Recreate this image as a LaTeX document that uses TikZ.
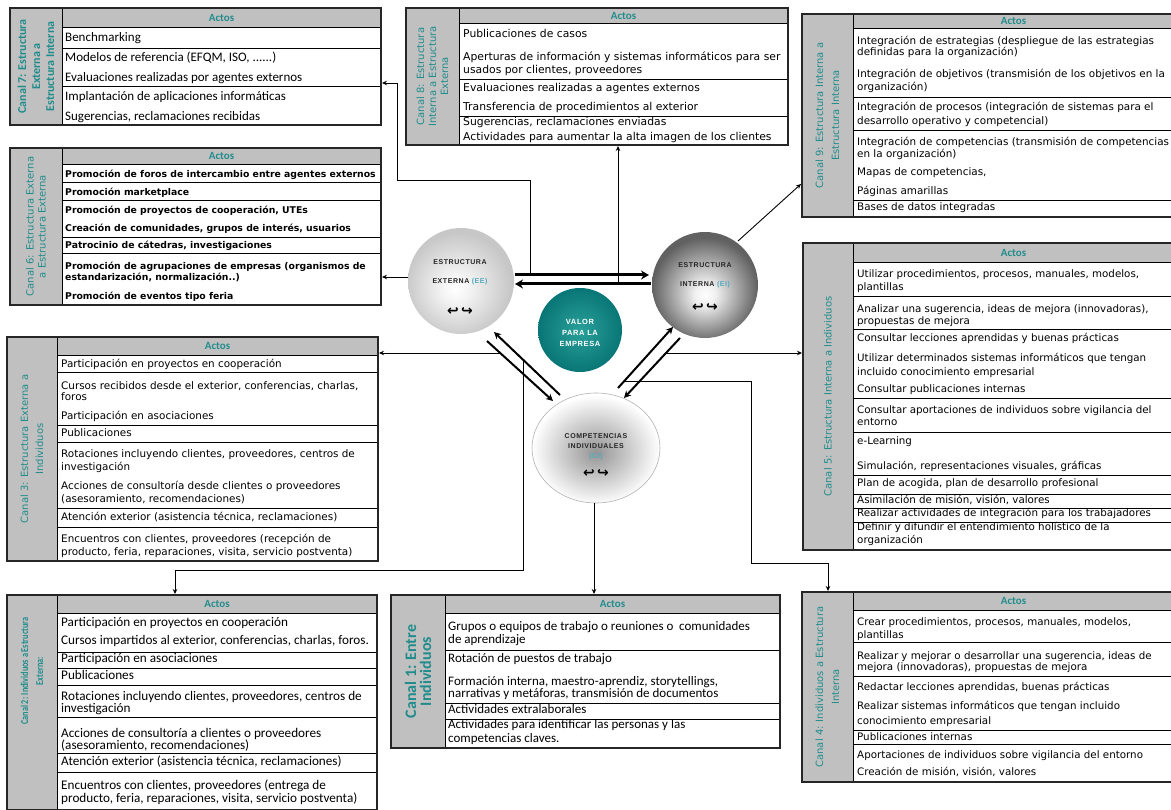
\documentclass[tikz,border=0pt]{standalone}
\usepackage{fontspec}
\newfontfamily\fdv{DejaVu Sans}
\newfontfamily\fcal{Carlito}
\newfontfamily\fcalnarrow[FakeStretch=0.78]{Carlito}
\newfontfamily\fcirc[LetterSpace=8]{Liberation Sans}
\usetikzlibrary{arrows.meta,shapes.geometric}

\definecolor{tealtxt}{RGB}{34,140,140}
\definecolor{teallight}{RGB}{80,170,190}
\definecolor{sidegray}{RGB}{192,192,192}
\definecolor{valin}{RGB}{42,160,154}
\definecolor{valout}{RGB}{8,118,118}

\pgfdeclareradialshading{eeshade}{\pgfpoint{-3bp}{-4bp}}{color(0bp)=(white); color(6bp)=(black!4); color(25bp)=(black!22); color(50bp)=(black!22)}
\pgfdeclareradialshading{eishade}{\pgfpoint{0bp}{-5bp}}{color(0bp)=(white); color(5bp)=(black!6); color(25bp)=(black!62); color(50bp)=(black!62)}
\pgfdeclareradialshading{cishade}{\pgfpoint{0bp}{-2bp}}{color(0bp)=(black!42); color(25bp)=(white); color(50bp)=(white)}
\pgfdeclareradialshading{valshade}{\pgfpoint{0bp}{0bp}}{color(0bp)=(valin); color(25bp)=(valout); color(50bp)=(valout)}

\tikzset{
  boxframe/.style={draw=black!85, line width=1.4pt},
  cellrule/.style={draw=black, line width=0.9pt},
  actos/.style={font=\fcal\bfseries\fontsize{11}{11}\selectfont, text=tealtxt, inner sep=0pt},
  tx/.style={anchor=mid west, inner sep=0pt, font=\fdv\fontsize{#1}{#1}\selectfont},
  tx/.default=10.3,
  txb/.style={anchor=mid west, inner sep=0pt, font=\fdv\bfseries\fontsize{9.3}{10}\selectfont},
  txc/.style={anchor=mid west, inner sep=0pt, font=\fcal\fontsize{#1}{#1}\selectfont},
  txc/.default=13.2,
  sidelabel/.style={rotate=90, align=center, text=tealtxt, inner sep=0pt, font=\fdv\fontsize{10}{#1}\selectfont},
  sidelabel/.default=12,
  sidebold/.style={rotate=90, align=center, text=tealtxt, inner sep=0pt, font=\fcal\bfseries\fontsize{12}{#1}\selectfont},
  sidebold/.default=15,
  link/.style={draw=black, line width=0.9pt, -{Stealth[length=5pt,width=4.5pt]}},
  bigarrow/.style={draw=black, line width=3pt, -{Stealth[length=8pt,width=9pt]}},
  diagarrow/.style={draw=black, line width=2pt, -{Stealth[length=7pt,width=7pt]}},
  circtxt/.style={font=\fcirc\bfseries\fontsize{7}{10}\selectfont, text=black!85, inner sep=0pt, align=center},
  circsym/.style={font=\fdv\bfseries\fontsize{14}{14}\selectfont, inner sep=0pt},
}

% #1 name, #2 left, #3 column edge, #4 right, #5 top, #6 header bottom, #7 bottom, #8 row rules
\newcommand\canal[8]{%
  \fill[sidegray] (#2,#5) rectangle (#3,#7);
  \fill[sidegray] (#3,#5) rectangle (#4,#6);
  \draw[cellrule] (#3,#6) -- (#4,#6);
  \foreach \yy in {#8} {\draw[cellrule] (#3,\yy) -- (#4,\yy);}
  \draw[cellrule] (#3,#5) -- (#3,#7);
  \draw[boxframe] (#2,#5) rectangle (#4,#7);
  \node[actos] (#1-head) at ({(#3+#4)/2},{(#5+#6)/2}) {Actos};
}

\begin{document}
\begin{tikzpicture}[x=1pt,y=-1pt]
\useasboundingbox (0,0) rectangle (1171,810);
\fill[white] (0,0) rectangle (1171,810);

% ---------------- tables ----------------
\canal{c7}{10}{62}{381}{8}{27}{125}{48,86}
\node[sidebold=14, font=\fcal\bfseries\fontsize{12}{14}\selectfont] (c7-side) at (36,66.5) {Canal 7: Estructura\\Externa a\\Estructura Interna};
\node[txc=13] (c7-1) at (65,39) {Benchmarking};
\node[txc=13] (c7-2) at (65,59) {Modelos de referencia (EFQM, ISO, ......)};
\node[txc=13] (c7-3) at (65,79) {Evaluaciones realizadas por agentes externos};
\node[txc=13] (c7-4) at (65,98) {Implantación de aplicaciones informáticas};
\node[txc=13] (c7-5) at (65,118) {Sugerencias, reclamaciones recibidas};

\canal{c8}{406}{459}{788}{8}{23}{145}{79,116}
\node[sidelabel=12] (c8-side) at (432.5,76.5) {Canal 8: Estructura\\Interna a Estructura\\Externa};
\node[tx=10.8] (c8-1) at (463,35) {Publicaciones de casos};
\node[tx=10.8] (c8-2) at (463,58) {Aperturas de información y sistemas informáticos para ser};
\node[tx=10.8] (c8-3) at (463,71) {usados por clientes, proveedores};
\node[tx=10.8] (c8-4) at (463,89) {Evaluaciones realizadas a agentes externos};
\node[tx=10.8] (c8-5) at (463,108) {Transferencia de procedimientos al exterior};
\node[tx=10.8] (c8-6) at (463,123) {Sugerencias, reclamaciones enviadas};
\node[tx=10.8] (c8-7) at (463,138) {Actividades para aumentar la alta imagen de los clientes};

\canal{c9}{802}{853}{1174}{14}{28}{217}{97,130,200}
\node[sidelabel=16] (c9-side) at (827.5,115.5) {Canal 9: Estructura Interna a\\Estructura Interna};
\node[tx=10.4] (c9-1) at (857,42) {Integración de estrategias (despliegue de las estrategias};
\node[tx=10.4] (c9-2) at (857,53) {definidas para la organización)};
\node[tx=10.4] (c9-3) at (857,75) {Integración de objetivos (transmisión de los objetivos en la};
\node[tx=10.4] (c9-4) at (857,88) {organización)};
\node[tx=10.4] (c9-5) at (857,108) {Integración de procesos (integración de sistemas para el};
\node[tx=10.4] (c9-6) at (857,122) {desarrollo operativo y competencial)};
\node[tx=10.4] (c9-7) at (857,143) {Integración de competencias (transmisión de competencias};
\node[tx=10.4] (c9-8) at (857,155) {en la organización)};
\node[tx=10.4] (c9-9) at (857,173) {Mapas de competencias,};
\node[tx=10.4] (c9-10) at (857,192) {Páginas amarillas};
\node[tx=10.4] (c9-11) at (857,208) {Bases de datos integradas};

\canal{c6}{10}{62}{381}{148}{164}{305}{182,200,237,253}
\node[sidelabel=12] (c6-side) at (36,226.5) {Canal 6: Estructura Externa\\a Estructura Externa};
\node[txb] (c6-1) at (65,175) {Promoción de foros de intercambio entre agentes externos};
\node[txb] (c6-2) at (65,193) {Promoción marketplace};
\node[txb] (c6-3) at (65,211) {Promoción de proyectos de cooperación, UTEs};
\node[txb] (c6-4) at (65,229) {Creación de comunidades, grupos de interés, usuarios};
\node[txb] (c6-5) at (65,246) {Patrocinio de cátedras, investigaciones};
\node[txb] (c6-6) at (65,267) {Promoción de agrupaciones de empresas (organismos de};
\node[txb] (c6-7) at (65,278) {estandarización, normalización..)};
\node[txb] (c6-8) at (65,297) {Promoción de eventos tipo feria};

\canal{c3}{7}{57}{378}{337}{355}{561}{372,425,442,508,527}
\node[sidelabel=15] (c3-side) at (32,449) {Canal 3: Estructura Externa a\\Individuos};
\node[tx=10.4] (c3-1) at (61,365) {Participación en proyectos en cooperación};
\node[tx=10.4] (c3-2) at (61,387) {Cursos recibidos desde el exterior, conferencias, charlas,};
\node[tx=10.4] (c3-3) at (61,398) {foros};
\node[tx=10.4] (c3-4) at (61,417) {Participación en asociaciones};
\node[tx=10.4] (c3-5) at (61,434) {Publicaciones};
\node[tx=10.4] (c3-6) at (61,455) {Rotaciones incluyendo clientes, proveedores, centros de};
\node[tx=10.4] (c3-7) at (61,468) {investigación};
\node[tx=10.4] (c3-8) at (61,487) {Acciones de consultoría desde clientes o proveedores};
\node[tx=10.4] (c3-9) at (61,500) {(asesoramiento, recomendaciones)};
\node[tx=10.4] (c3-10) at (61,518) {Atención exterior (asistencia técnica, reclamaciones)};
\node[tx=10.4] (c3-11) at (61,540) {Encuentros con clientes, proveedores (recepción de};
\node[tx=10.4] (c3-12) at (61,553) {producto, feria, reparaciones, visita, servicio postventa)};

\canal{c5}{803}{853}{1174}{243}{262}{550}{296,329,398,432,475,494,508,522}
\node[sidelabel] (c5-side) at (828,396.5) {Canal 5: Estructura Interna a Individuos};
\node[tx] (c5-1) at (857,275) {Utilizar procedimientos, procesos, manuales, modelos,};
\node[tx] (c5-2) at (857,288) {plantillas};
\node[tx] (c5-3) at (857,310) {Analizar una sugerencia, ideas de mejora (innovadoras),};
\node[tx] (c5-4) at (857,322) {propuestas de mejora};
\node[tx] (c5-5) at (857,339) {Consultar lecciones aprendidas y buenas prácticas};
\node[tx] (c5-6) at (857,359) {Utilizar determinados sistemas informáticos que tengan};
\node[tx] (c5-7) at (857,373) {incluido conocimiento empresarial};
\node[tx] (c5-8) at (857,390) {Consultar publicaciones internas};
\node[tx] (c5-9) at (857,411) {Consultar aportaciones de individuos sobre vigilancia del};
\node[tx] (c5-10) at (857,423) {entorno};
\node[tx] (c5-11) at (857,442) {e-Learning};
\node[tx] (c5-12) at (857,467) {Simulación, representaciones visuales, gráficas};
\node[tx] (c5-13) at (857,484) {Plan de acogida, plan de desarrollo profesional};
\node[tx] (c5-14) at (857,501) {Asimilación de misión, visión, valores};
\node[tx] (c5-15) at (857,514.5) {Realizar actividades de integración para los trabajadores};
\node[tx] (c5-16) at (857,528.5) {Definir y difundir el entendimiento holístico de la};
\node[tx] (c5-17) at (857,541) {organización};

\canal{c2}{7}{57}{377}{595}{613}{809.5}{652,668,685,717,753,772}
\node[sidebold=15, font=\fcalnarrow\bfseries\fontsize{10.5}{15}\selectfont] (c2-side) at (32,671) {Canal 2: Individuos a Estructura\\Externa:};
\node[txc] (c2-1) at (61,624) {Participación en proyectos en cooperación};
\node[txc] (c2-2) at (61,642) {Cursos impartidos al exterior, conferencias, charlas, foros.};
\node[txc] (c2-3) at (61,660) {Participación en asociaciones};
\node[txc] (c2-4) at (61,677) {Publicaciones};
\node[txc] (c2-5) at (61,698) {Rotaciones incluyendo clientes, proveedores, centros de};
\node[txc] (c2-6) at (61,710) {investigación};
\node[txc] (c2-7) at (61,735) {Acciones de consultoría a clientes o proveedores};
\node[txc] (c2-8) at (61,747) {(asesoramiento, recomendaciones)};
\node[txc] (c2-9) at (61,763) {Atención exterior (asistencia técnica, reclamaciones)};
\node[txc] (c2-10) at (61,787) {Encuentros con clientes, proveedores (entrega de};
\node[txc] (c2-11) at (61,800) {producto, feria, reparaciones, visita, servicio postventa)};

\canal{c1}{391}{445}{780}{595}{613}{748}{650,703,719}
\node[sidebold=15, font=\fcal\bfseries\fontsize{16}{15}\selectfont] (c1-side) at (418,671.5) {Canal 1: Entre\\Individuos};
\node[txc=13] (c1-1) at (448,628) {Grupos o equipos de trabajo o reuniones o\ \ comunidades};
\node[txc=13] (c1-2) at (448,641) {de aprendizaje};
\node[txc=13] (c1-3) at (448,660) {Rotación de puestos de trabajo};
\node[txc=13] (c1-4) at (448,683) {Formación interna, maestro-aprendiz, storytellings,};
\node[txc=13] (c1-5) at (448,695) {narrativas y metáforas, transmisión de documentos};
\node[txc=13] (c1-6) at (448,711) {Actividades extralaborales};
\node[txc=13] (c1-7) at (448,726) {Actividades para identificar las personas y las};
\node[txc=13] (c1-8) at (448,740) {competencias claves.};

\canal{c4}{802}{853}{1174}{592}{610}{782}{642,676,730,744}
\node[sidelabel=16] (c4-side) at (827.5,687) {Canal 4: Individuos a Estructura\\Interna};
\node[tx] (c4-1) at (857,623) {Crear procedimientos, procesos, manuales, modelos,};
\node[tx] (c4-2) at (857,636) {plantillas};
\node[tx] (c4-3) at (857,657) {Realizar y mejorar o desarrollar una sugerencia, ideas de};
\node[tx] (c4-4) at (857,668) {mejora (innovadoras), propuestas de mejora};
\node[tx] (c4-5) at (857,688) {Redactar lecciones aprendidas, buenas prácticas};
\node[tx] (c4-6) at (857,707) {Realizar sistemas informáticos que tengan incluido};
\node[tx] (c4-7) at (857,722) {conocimiento empresarial};
\node[tx] (c4-8) at (857,738) {Publicaciones internas};
\node[tx] (c4-9) at (857,756) {Aportaciones de individuos sobre vigilancia del entorno};
\node[tx] (c4-10) at (857,773) {Creación de misión, visión, valores};

% ---------------- junction points on the arrows ----------------
\coordinate (j7) at (530,275);
\coordinate (j7a) at (530,180);
\coordinate (j7b) at (397,180);
\coordinate (j7c) at (397,83);
\coordinate (in7) at (382,83);
\coordinate (j8) at (618,284);
\coordinate (in8) at (618,146);
\coordinate (j6) at (408,277);
\coordinate (in6) at (382,277);
\coordinate (j9) at (738,241);
\coordinate (in9) at (801,184);
\coordinate (j3) at (500,353);
\coordinate (in3) at (379,353);
\coordinate (j5) at (665,353);
\coordinate (in5) at (802,353);
\coordinate (j2) at (523,360);
\coordinate (j2a) at (523,570);
\coordinate (j2b) at (175,570);
\coordinate (in2) at (175,594);
\coordinate (j1) at (594,503);
\coordinate (in1) at (594,594);
\coordinate (j4) at (625,381);
\coordinate (j4a) at (751,381);
\coordinate (j4b) at (751,563);
\coordinate (j4c) at (828,563);
\coordinate (in4) at (828,591);

% thin connectors to the channel tables
\draw[link] (j7) -- (j7a) -- (j7b) -- (j7c) -- (in7);
\draw[link] (j8) -- (in8);
\draw[link] (j3) -- (in3);
\draw[link] (j5) -- (in5);
\draw[link] (j2) -- (j2a) -- (j2b) -- (in2);
\draw[link] (j4) -- (j4a) -- (j4b) -- (j4c) -- (in4);

% ---------------- the four circles ----------------
\node[circle, minimum size=106pt, inner sep=0pt, shading=eeshade] (EE) at (461,281) {};
\node[circle, minimum size=106pt, inner sep=0pt, shading=eishade] (EI) at (705,285) {};
\node[circle, minimum size=84pt, inner sep=0pt, shading=valshade] (VAL) at (580,330) {};
\node[ellipse, minimum width=128pt, minimum height=110pt, inner sep=0pt, shading=cishade, draw=black!30, line width=0.6pt] (CI) at (596,448) {};

\node[circtxt] (EE-t1) at (460,262) {ESTRUCTURA};
\node[circtxt] (EE-t2) at (460,282) {EXTERNA {\color{teallight}(EE)}};
\node[circsym] (EE-s) at (460,312) {↩\,↪};
\node[circtxt] (EI-t1) at (705,265) {ESTRUCTURA};
\node[circtxt] (EI-t2) at (705,285) {INTERNA {\color{teallight}(EI)}};
\node[circsym] (EI-s) at (705,308) {↩\,↪};
\node[circtxt, text=white, font=\fcirc\bfseries\fontsize{7.5}{11}\selectfont] (VAL-t) at (580,333) {VALOR\\PARA LA\\EMPRESA};
\node[circtxt, font=\fcirc\bfseries\fontsize{7}{10}\selectfont] (CI-t) at (596,447) {COMPETENCIAS\\INDIVIDUALES\\{\color{teallight}(CI)}};
\node[circsym] (CI-s) at (596,474) {↩\,↪};

% ---------------- arrows between the circles ----------------
\coordinate (a1) at (515,275);
\coordinate (a2) at (649,275);
\coordinate (b1) at (651,284);
\coordinate (b2) at (515,284);
\draw[bigarrow] (a1) -- (a2);
\draw[bigarrow] (b1) -- (b2);

\coordinate (d1) at (487,341);
\coordinate (d2) at (553,401);
\coordinate (d3) at (560,395);
\coordinate (d4) at (494,332);
\coordinate (d5) at (618,388);
\coordinate (d6) at (673,327);
\coordinate (d7) at (680,338);
\coordinate (d8) at (624,398);
\draw[diagarrow] (d1) -- (d2);
\draw[diagarrow] (d3) -- (d4);
\draw[diagarrow] (d5) -- (d6);
\draw[diagarrow] (d7) -- (d8);

% connectors leaving the circles
\draw[link] (j6) -- (in6);
\draw[link] (j9) -- (in9);
\draw[link] (j1) -- (in1);
\end{tikzpicture}
\end{document}
